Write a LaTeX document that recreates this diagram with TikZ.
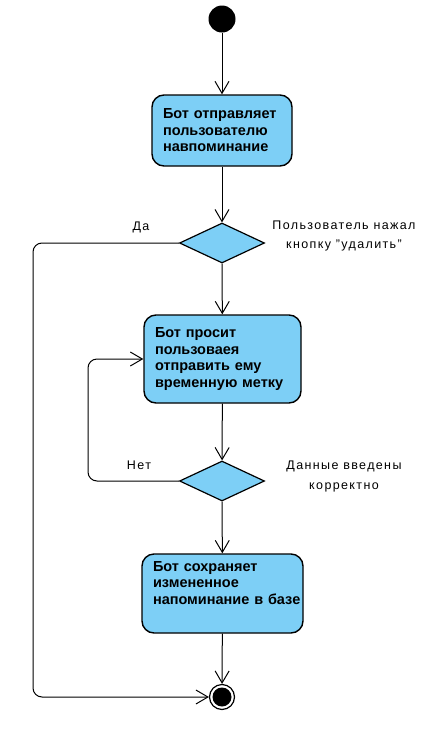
\documentclass[tikz,border=0pt]{standalone}
\usepackage{fontspec}
\setmainfont{Liberation Sans}
\usetikzlibrary{arrows.meta,shapes.geometric}
\definecolor{actfill}{RGB}{125,207,246}
\tikzset{
  act/.style={draw=black, line width=1.4pt, fill=actfill, rounded corners=12pt,
    rectangle, inner xsep=11pt, inner ysep=4pt, align=left,
    font=\fontsize{14.5}{16.5}\selectfont\bfseries},
  dec/.style={draw=black, line width=1.2pt, fill=actfill, diamond, inner sep=0pt,
    minimum width=85pt, minimum height=40pt},
  flow/.style={line width=1pt, -{Straight Barb[length=12pt,width=14pt,line width=1pt]}},
  lbl/.style={font=\fontsize{12.5}{19.5}\selectfont\addfontfeature{LetterSpace=11}, align=center, inner sep=0pt}
}
\begin{document}
\begin{tikzpicture}[x=1pt,y=-1pt]
\useasboundingbox (0,0) rectangle (445,737);
\node[circle, fill=black, minimum size=27pt, inner sep=0pt] (start) at (222,19) {};
\node[act, text width=118pt, minimum height=71pt] (a1) at (222,130.5)
  {Бот отправляет\\пользователю\\навпоминание};
\node[dec] (d1) at (222,243) {};
\node[act, text width=135pt, minimum height=88pt] (a2) at (222.5,359)
  {Бот просит\\пользоваея\\отправить ему\\\mbox{временную метку}};
\node[dec] (d2) at (222,481) {};
\node[act, text width=139pt, minimum height=79pt] (a3) at (222.5,593.5)
  {Бот сохраняет\\измененное\\\mbox{напоминание в базе}\\[5pt]\mbox{}};
\node[circle, draw=black, fill=white, line width=1.2pt, minimum size=25pt, inner sep=0pt] (end) at (222,697) {};
\fill[black] (end.center) circle (9.5pt);

\coordinate (c1) at (33,243);
\coordinate (c2) at (33,697);
\coordinate (c3) at (88,481);
\coordinate (c4) at (88,359);

\draw[flow] (start) -- (a1);
\draw[flow] (a1) -- (d1);
\draw[flow] (d1) -- (a2);
\draw[flow] (a2) -- (d2);
\draw[flow] (d2) -- (a3);
\draw[flow] (a3) -- (end);
\draw[flow, rounded corners=9pt] (d1.west) -- (c1) -- (c2) -- (end.west);
\draw[flow, rounded corners=9pt] (d2.west) -- (c3) -- (c4) -- (a2.west);

\node[lbl] (l1) at (141,227) {Да};
\node[lbl] (l2) at (344,236) {Пользователь нажал\\кнопку "удалить"};
\node[lbl] (l3) at (139,465) {Нет};
\node[lbl] (l4) at (344,476.5) {Данные введены\\корректно};
\end{tikzpicture}
\end{document}
